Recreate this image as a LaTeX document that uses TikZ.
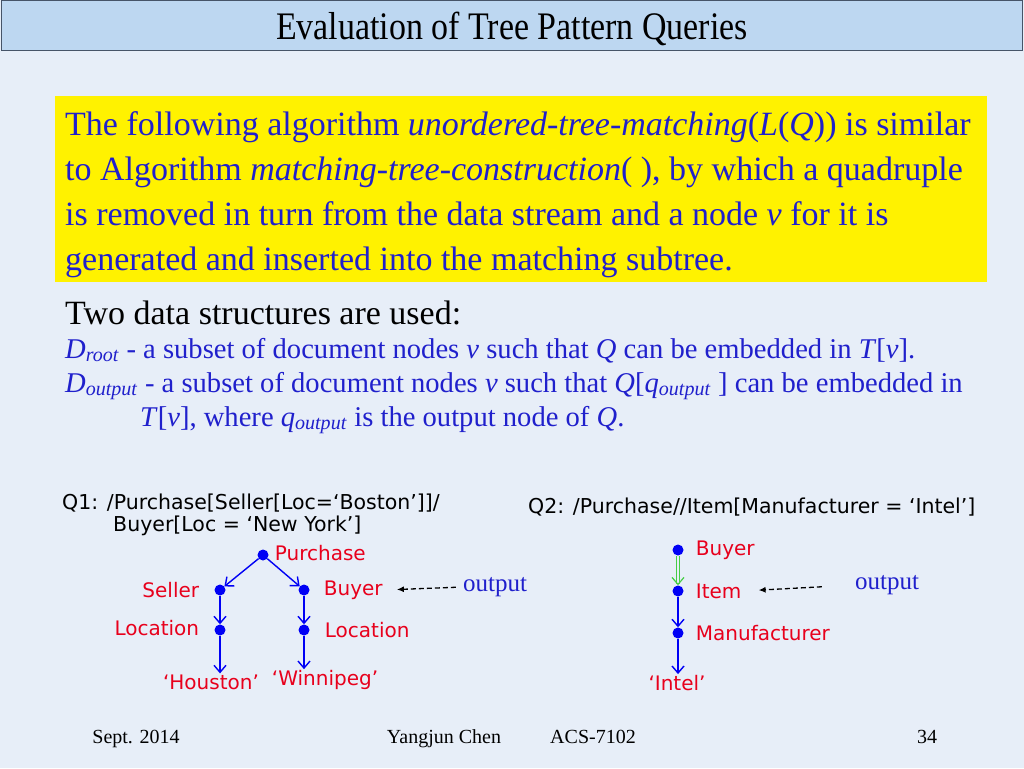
\documentclass[tikz,border=0pt]{standalone}
\usepackage{graphicx}
\usepackage{fontspec}
\setmainfont{Liberation Serif}
\newfontfamily\vsans{DejaVu Sans}
\usetikzlibrary{arrows.meta,positioning}
\definecolor{slidebg}{RGB}{231,238,248}
\definecolor{titlebg}{RGB}{189,215,241}
\definecolor{titleline}{RGB}{70,84,104}
\definecolor{txtblue}{RGB}{32,32,204}
\definecolor{lblred}{RGB}{232,0,28}
\definecolor{dotblue}{RGB}{0,0,245}
\definecolor{dblgreen}{RGB}{70,205,70}

\begin{document}
\begin{tikzpicture}[x=1pt, y=-1pt,
  titlebar/.style={draw=titleline, fill=titlebg, minimum width=1021pt, minimum height=50pt, inner sep=0pt},
  titletext/.style={font=\fontsize{39}{42}\selectfont, anchor=base, inner sep=0pt},
  yellowbox/.style={fill=yellow, minimum width=932pt, minimum height=186pt, inner sep=0pt},
  bigtext/.style={font=\fontsize{34}{45}\selectfont, align=left, inner sep=0pt},
  deftext/.style={text=txtblue, font=\fontsize{28.6}{34}\selectfont, anchor=base west, inner sep=0pt},
  query/.style={font=\vsans\fontsize{20.5}{24}\selectfont, anchor=base west, inner sep=0pt},
  dot/.style={circle, fill=dotblue, inner sep=0pt, minimum size=11pt},
  lbl/.style={text=lblred, font=\vsans\fontsize{20}{24}\selectfont, inner sep=1pt},
  outlbl/.style={text=txtblue, font=\fontsize{25}{28}\selectfont, inner sep=0pt},
  edge/.style={-{Straight Barb[length=7pt,width=12pt,line width=1.4pt]}, draw=dotblue, line width=1.4pt},
  dbledge/.style={-{Straight Barb[length=7pt,width=12pt,line width=1.2pt]}, draw=dblgreen, double=slidebg, double distance=2pt, line width=1.1pt},
  outarrow/.style={-{Latex[length=7pt,width=6pt]}, dash pattern=on 5pt off 3pt, line width=1.3pt},
  footer/.style={font=\fontsize{20}{24}\selectfont, anchor=base, inner sep=0pt}
]
\fill[slidebg] (0,0) rectangle (1024,768);
\useasboundingbox (0,0) rectangle (1024,768);

\node[titlebar, anchor=north west] (title) at (0.5,0.5) {};
\node[titletext] (titleT) at (512,40) {\scalebox{0.87}[1]{Evaluation of Tree Pattern Queries}};

\node[yellowbox, anchor=north west] (box) at (55,96) {};
\node[bigtext, text=txtblue, anchor=west] (algo) at ([xshift=10pt,yshift=-5pt]box.west) {%
The following algorithm \textit{unordered-tree-matching}(\textit{L}(\textit{Q})) is similar\\
to Algorithm \textit{matching-tree-construction}( ), by which a quadruple\\
is removed in turn from the data stream and a node \textit{v} for it is\\
generated and inserted into the matching subtree.};

\node[bigtext, anchor=base west] (two) at (65,324) {Two data structures are used:};
\node[deftext] (droot) at (65,358) {\textit{D}\textsubscript{\textit{root}} - a subset of document nodes \textit{v} such that \textit{Q} can be embedded in \textit{T}[\textit{v}].};
\node[deftext] (dout) at (65,392) {\textit{D}\textsubscript{\textit{output}} - a subset of document nodes \textit{v} such that \textit{Q}[\textit{q}\textsubscript{\textit{output}} ] can be embedded in};
\node[deftext] (doutb) at (140,426) {\textit{T}[\textit{v}], where \textit{q}\textsubscript{\textit{output}} is the output node of \textit{Q}.};

\node[query] (q1a) at (62,509) {Q1: /Purchase[Seller[Loc=‘Boston’]]/};
\node[query] (q1b) at (113,531) {Buyer[Loc = ‘New York’]};
\node[query] (q2) at (528,513) {Q2: /Purchase//Item[Manufacturer = ‘Intel’]};

\node[dot] (pur) at (263,555) {};
\node[dot] (sel) at (220,590) {};
\node[dot] (buy) at (304,590) {};
\node[dot] (sloc) at (220,630) {};
\node[dot] (bloc) at (304,630) {};
\node[lbl, right=5pt of pur, yshift=2pt] (purT) {Purchase};
\node[lbl, left=14pt of sel] (selT) {Seller};
\node[lbl, right=13pt of buy] (buyT) {Buyer};
\node[lbl, left=14pt of sloc, yshift=2pt] (slocT) {Location};
\node[lbl, right=14pt of bloc] (blocT) {Location};
\node[lbl] (hou) at (211,682) {‘Houston’};
\node[lbl] (win) at (325,680) {‘Winnipeg’};

\draw[edge] (pur) -- (sel);
\draw[edge] (pur) -- (buy);
\draw[edge] (sel) -- (sloc);
\draw[edge] (buy) -- (bloc);
\draw[edge] (sloc) -- (sloc |- hou.north);
\draw[edge] (bloc) -- (bloc |- win.north);

\node[outlbl] (out1) at (495,587) {output};
\draw[outarrow, shorten <=7pt, shorten >=13pt] (out1.west) -- (buyT.east);

\node[dot] (b2) at (678,550) {};
\node[dot] (i2) at (678,591) {};
\node[dot] (m2) at (678,633) {};
\node[lbl, right=11pt of b2] (b2T) {Buyer};
\node[lbl, right=11pt of i2] (i2T) {Item};
\node[lbl, right=11pt of m2] (m2T) {Manufacturer};
\node[lbl] (intel) at (677,683) {‘Intel’};

\draw[dbledge] (b2) -- (i2);
\draw[edge] (i2) -- (m2);
\draw[edge] (m2) -- (m2 |- intel.north);

\node[outlbl] (out2) at (887,585) {output};
\draw[outarrow, shorten <=33pt, shorten >=16pt] (out2.west) -- (i2T.east);

\node[footer] (date) at (136,743) {Sept. 2014};
\node[footer] (auth) at (444,743) {Yangjun Chen};
\node[footer] (course) at (593,743) {ACS-7102};
\node[footer] (page) at (927,743) {34};
\end{tikzpicture}
\end{document}
